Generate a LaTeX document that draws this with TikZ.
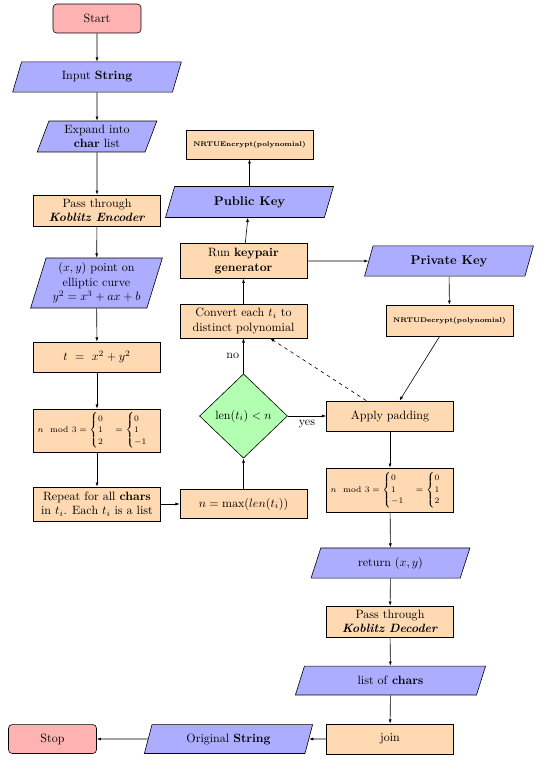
\documentclass[tikz,border=0pt]{standalone}
\usepackage{amsmath}
\usetikzlibrary{shapes.geometric,arrows.meta}
\begin{document}
\begin{tikzpicture}[x=0.83pt,y=-0.83pt,
  base/.style={draw=black, line width=0.5pt, align=center, inner sep=1pt, font=\normalsize},
  process/.style={base, rectangle, fill=orange!30, minimum width=105.4pt, minimum height=25pt},
  io/.style={base, trapezium, trapezium left angle=72, trapezium right angle=108,
    trapezium stretches=true, fill=blue!32},
  terminal/.style={base, rectangle, rounded corners=3pt, fill=red!30,
    minimum width=73pt, minimum height=24pt},
  decision/.style={base, diamond, fill=green!30, minimum width=73pt, minimum height=70pt},
  keyfont/.style={font=\fontsize{10.5}{12.5}\selectfont\bfseries},
  nrtufont/.style={font=\fontsize{5.6}{6.5}\selectfont\bfseries},
  modfont/.style={font=\scriptsize},
  arrow/.style={-{Latex[length=3.5pt,width=2.5pt]}, line width=0.5pt},
]
\useasboundingbox (0,0) rectangle (541,763);

% encoding column
\node[terminal] (start) at (97,18.5) {Start};
\node[io, minimum width=141pt, minimum height=25pt] (input) at (97,77) {Input \textbf{String}};
\node[io, minimum width=99.6pt, minimum height=25.7pt] (expand) at (97,136.5) {Expand into\\\textbf{char} list};
\node[process, minimum height=25.7pt] (encoder) at (97,210.5) {Pass through\\\textbf{\textit{Koblitz Encoder}}};
\node[io, minimum width=110.4pt, minimum height=41.5pt] (point) at (96.5,283) {$(x,y)$ point on\\elliptic curve\\$y^2=x^3+ax+b$};
\node[process] (tval) at (97,357) {$t\ =\ x^2+y^2$};
\node[process, minimum height=35.7pt, modfont] (modA) at (97,430.5)
  {$n \mod 3 = \begin{cases}0\\1\\2\end{cases} = \begin{cases}0\\1\\-1\end{cases}$};
\node[process, minimum height=28.2pt] (repeat) at (97,504) {Repeat for all \textbf{chars}\\in $t_i$. Each $t_i$ is a list};

% key generation column
\node[process, minimum height=24pt] (maxn) at (243.5,504) {$n=\max(len(t_i))$};
\node[decision] (check) at (243.5,416) {$\mathrm{len}(t_i) < n$};
\node[process, minimum height=28.2pt] (convert) at (243.5,321) {Convert each $t_i$ to\\distinct polynomial};
\node[process, minimum height=29pt] (keygen) at (243.5,261) {Run \textbf{keypair}\\\textbf{generator}};
\node[io, minimum width=140.3pt, minimum height=25.7pt, keyfont] (pubkey) at (249.5,202) {Public Key};
\node[process, minimum height=24pt, nrtufont] (encrypt) at (249.5,144.5) {NRTUEncrypt(polynomial)};

% decoding column
\node[io, minimum width=141pt, minimum height=25pt, keyfont] (privkey) at (449,261) {Private Key};
\node[process, minimum height=25.7pt, nrtufont] (decrypt) at (449.5,320.5) {NRTUDecrypt(polynomial)};
\node[process] (padding) at (390,416) {Apply padding};
\node[process, minimum height=36.5pt, modfont] (modB) at (390,490)
  {$n \mod 3 = \begin{cases}0\\1\\-1\end{cases} = \begin{cases}0\\1\\2\end{cases}$};
\node[io, minimum width=132pt, minimum height=25pt] (ret) at (390.5,563) {return $(x,y)$};
\node[process, minimum height=25.7pt] (decoder) at (390,621.5) {Pass through\\\textbf{\textit{Koblitz Decoder}}};
\node[io, minimum width=158.5pt, minimum height=24pt] (chars) at (390.5,680.5) {list of \textbf{chars}};
\node[process] (join) at (390,739) {join};
\node[io, minimum width=140.3pt, minimum height=24pt] (orig) at (228.5,739) {Original \textbf{String}};
\node[terminal] (stop) at (52.5,739) {Stop};

% connectors
\draw[arrow] (start) -- (input);
\draw[arrow] (input) -- (expand);
\draw[arrow] (expand) -- (encoder);
\draw[arrow] (encoder) -- (point);
\draw[arrow] (point) -- (tval);
\draw[arrow] (tval) -- (modA);
\draw[arrow] (modA) -- (repeat);
\draw[arrow] (repeat) -- (maxn);
\draw[arrow] (maxn) -- (check);
\draw[arrow] (check) -- node[midway, left] {no} (convert);
\draw[arrow] (convert) -- (keygen);
\draw[arrow] (keygen) -- (pubkey);
\draw[arrow] (pubkey) -- (encrypt);
\draw[arrow] (keygen) -- (privkey);
\draw[arrow] (privkey) -- (decrypt);
\draw[arrow] (decrypt) -- (padding);
\draw[arrow, dashed] (padding) -- (convert);
\draw[arrow] (check) -- node[midway, below] {yes} (padding);
\draw[arrow] (padding) -- (modB);
\draw[arrow] (modB) -- (ret);
\draw[arrow] (ret) -- (decoder);
\draw[arrow] (decoder) -- (chars);
\draw[arrow] (chars) -- (join);
\draw[arrow] (join) -- (orig);
\draw[arrow] (orig) -- (stop);
\end{tikzpicture}
\end{document}
